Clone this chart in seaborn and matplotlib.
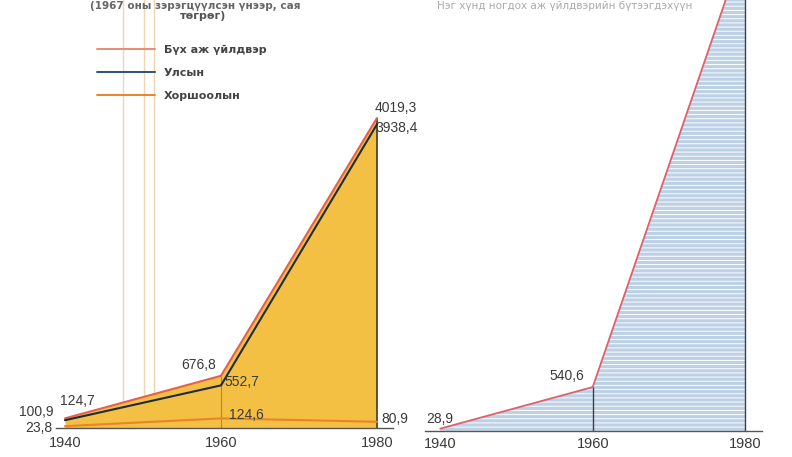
import numpy as np
import pandas as pd
import matplotlib
matplotlib.use("Agg")
import matplotlib.pyplot as plt
import seaborn as sns
from matplotlib.lines import Line2D

# data
years = [1940, 1960, 1980]
total = [124.7, 676.8, 4019.3]     # Бүх аж үйлдвэр
state = [100.9, 552.7, 3938.4]     # Улсын
coop = [23.8, 124.6, 80.9]         # Хоршооллын
right_years = [1940, 1960, 1980]
right_vals = [28.9, 540.6, 6000]   # 1980 value runs off the top, estimated
total_lbl = ["124,7", "676,8", "4019,3"]
state_lbl = ["100,9", "552,7", "3938,4"]
coop_lbl = ["23,8", "124,6", "80,9"]
right_lbl = ["28,9", "540,6"]
tick_years = [1940, 1960, 1980]
series_names = ["Бүх аж үйлдвэр", "Улсын", "Хоршоолын"]
fold_lines = [1947.4, 1950.1, 1951.4]  # faint print fold lines

sns.set_theme(style="white")
plt.rcParams["font.family"] = ["Liberation Sans", "DejaVu Sans"]

c_total = "#e4604a"
c_state = "#1f2a3a"
c_coop = "#e9842c"
c_fill = "#f4c043"
c_blue = "#bcd0e6"
c_txt = "#3a3a3a"

W, H = 792, 457
fig = plt.figure(figsize=(W / 100, H / 100), dpi=100)
fig.patch.set_facecolor("white")

# ---- left panel
axL = fig.add_axes([55.6 / W, 29 / H, 337 / W, 428 / H])
axL.set_xlim(1938.8, 1982)
axL.set_ylim(0, 5550)
axL.fill_between(years, total, 0, color=c_fill, lw=0, zorder=1)

df = pd.DataFrame({"year": years * 3,
                   "value": total + state + coop,
                   "serie": sum([[n] * 3 for n in series_names], [])})
sns.lineplot(data=df, x="year", y="value", hue="serie", ax=axL,
             palette=[c_total, c_state, c_coop], linewidth=1.5,
             legend=False, zorder=3)
axL.vlines(years[1], 0, total[1], color="#b08a3a", lw=0.8, zorder=2)
axL.vlines(years[2], 0, total[2], color="#4a3a2a", lw=1.2, zorder=2)

for fx in fold_lines:
    axL.axvline(fx, color="#e8b980", lw=1.0, alpha=0.6, zorder=0)

def lab(ax, txt, xy, off):
    ax.annotate(txt, xy=xy, xytext=off, textcoords="offset pixels",
                ha="center", va="center", fontsize=10, color=c_txt,
                annotation_clip=False, zorder=5)

lab(axL, total_lbl[0], (years[0], total[0]), (12, 17))
lab(axL, state_lbl[0], (years[0], state[0]), (-29, 8))
lab(axL, coop_lbl[0], (years[0], coop[0]), (-26, -2))
lab(axL, total_lbl[1], (years[1], total[1]), (-22, 11))
lab(axL, state_lbl[1], (years[1], state[1]), (21, 3))
lab(axL, coop_lbl[1], (years[1], coop[1]), (25, 3))
lab(axL, total_lbl[2], (years[2], total[2]), (19, 10))
lab(axL, state_lbl[2], (years[2], state[2]), (20, -4))
lab(axL, coop_lbl[2], (years[2], coop[2]), (18, 3))

# ---- right panel
axR = fig.add_axes([425 / W, 26 / H, 337 / W, 431 / H])
axR.set_xlim(1938.0, 1982.2)
axR.set_ylim(0, 5300)
plt.rcParams["hatch.linewidth"] = 0.7
axR.fill_between(right_years, right_vals, 0, facecolor=c_blue,
                 edgecolor="white", hatch="----", lw=0, zorder=1)
sns.lineplot(x=right_years, y=right_vals, ax=axR, color="#e0606a",
             linewidth=1.3, zorder=3)
axR.vlines(right_years[1], 0, right_vals[1], color="#3a4048", lw=1.0, zorder=2)
axR.vlines(right_years[2], 0, right_vals[2], color="#3a4048", lw=1.0, zorder=2)
lab(axR, right_lbl[0], (right_years[0], right_vals[0]), (0, 10))
lab(axR, right_lbl[1], (right_years[1], right_vals[1]), (-26, 11))

for ax, pad in [(axL, 6), (axR, 4.5)]:
    ax.set_facecolor("none")
    for s in ["top", "right", "left"]:
        ax.spines[s].set_visible(False)
    ax.spines["bottom"].set_color("#555555")
    ax.spines["bottom"].set_linewidth(1.0)
    ax.set_xticks(tick_years)
    ax.set_xticklabels([str(t) for t in tick_years])
    ax.set_yticks([])
    ax.set_xlabel("")
    ax.set_ylabel("")
    ax.tick_params(axis="x", length=0, pad=pad, labelsize=10.5, labelcolor=c_txt)

# legend
handles = [Line2D([], [], color=c, lw=1.4) for c in ["#ec8a78", "#2c4f7c", c_coop]]
fig.legend(handles, series_names, loc="upper left",
           bbox_to_anchor=(97 / W, 1 - 45 / H), frameon=False,
           handlelength=5.2, handletextpad=0.8, labelspacing=1.15,
           borderpad=0, borderaxespad=0,
           prop={"family": "DejaVu Sans", "size": 8, "weight": "bold"},
           labelcolor="#444444")

# titles at the top of the scan
fig.text(195 / W, 1 - 1 / H, "(1967 оны зэрэгцүүлсэн үнээр, сая", ha="center", va="top",
         fontsize=7.5, fontweight="bold", color="#666666", family="DejaVu Sans")
fig.text(203 / W, 1 - 16 / H, "төгрөг)", ha="center", va="center",
         fontsize=8, fontweight="bold", color="#555555", family="DejaVu Sans")
fig.text(565 / W, 1 - 1 / H, "Нэг хүнд ногдох аж үйлдвэрийн бүтээгдэхүүн", ha="center",
         va="top", fontsize=7.5, color="#aaaaaa", family="DejaVu Sans")

fig.savefig("out.png", dpi=100, facecolor="white")
